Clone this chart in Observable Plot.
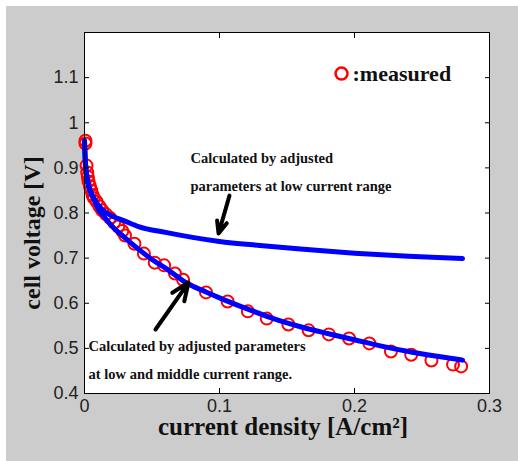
<!DOCTYPE html>
<html><head><meta charset="utf-8">
<script src="https://cdn.jsdelivr.net/npm/d3@7"></script>
<script src="https://cdn.jsdelivr.net/npm/@observablehq/plot@0.6"></script>
<style>
html,body{margin:0;padding:0;background:#fff;}
#chart{position:absolute;left:6px;top:6px;width:512px;height:455px;background:#cccccc;}
#chart svg{display:block;}
</style></head><body><div id="chart"></div>
<script>
// measured data (current density A/cm2, cell voltage V)
const measuredX = [0.0007,0.0007,0.0015,0.002,0.0025,0.003,0.004,0.005,0.006,0.007,0.009,0.011,0.013,0.016,0.019,0.022,0.025,0.028,0.030,0.037,0.044,0.052,0.059,0.067,0.073,0.090,0.106,0.121,0.135,0.151,0.166,0.181,0.196,0.211,0.227,0.242,0.257,0.273,0.279];
const measuredV = [0.960,0.954,0.905,0.890,0.880,0.870,0.860,0.850,0.840,0.833,0.825,0.815,0.806,0.797,0.789,0.779,0.770,0.760,0.750,0.732,0.710,0.690,0.684,0.666,0.652,0.624,0.604,0.582,0.566,0.553,0.540,0.531,0.522,0.511,0.493,0.486,0.473,0.464,0.460];
// model fitted at low current range
const lowFitX = [0,0.0005,0.001,0.002,0.004,0.007,0.01,0.015,0.02,0.03,0.04,0.06,0.08,0.1,0.13,0.16,0.2,0.24,0.28];
const lowFitV = [0.96,0.92,0.90,0.875,0.852,0.833,0.818,0.803,0.794,0.782,0.770,0.757,0.746,0.737,0.728,0.720,0.711,0.704,0.699];
// model fitted at low and middle current range
const midFitX = [0,0.0005,0.001,0.002,0.004,0.007,0.01,0.015,0.02,0.03,0.04,0.05,0.06,0.075,0.09,0.1,0.12,0.14,0.16,0.18,0.2,0.22,0.24,0.26,0.28];
const midFitV = [0.96,0.92,0.90,0.875,0.85,0.83,0.81,0.79,0.772,0.745,0.72,0.697,0.678,0.646,0.625,0.612,0.588,0.566,0.548,0.533,0.519,0.505,0.493,0.483,0.474];
// ticks
const xTicks = [0,0.1,0.2,0.3];
const yTicks = [0.4,0.5,0.6,0.7,0.8,0.9,1,1.1];
// annotations
const noteText = ["Calculated by adjusted","parameters at low current range","Calculated by adjusted parameters","at low and middle current range."];
const noteX = [0.0785,0.0785,0.003,0.003];
const noteY = [0.922,0.860,0.5055,0.4434];
const arrowX1 = [0.1074,0.0526];
const arrowY1 = [0.8386,0.5418];
const arrowX2 = [0.0993,0.0770];
const arrowY2 = [0.7545,0.6459];
const legendLabel = [":measured"];
const legendX = [0.1904];
const legendY = [1.109];

const measured = measuredX.map((x,i)=>({x, v: measuredV[i]}));
const lowFit = lowFitX.map((x,i)=>({x, v: lowFitV[i]}));
const midFit = midFitX.map((x,i)=>({x, v: midFitV[i]}));
const notes = noteText.map((t,i)=>({t, x: noteX[i], y: noteY[i]}));
const arrows = arrowX1.map((x,i)=>({x1:x, y1:arrowY1[i], x2:arrowX2[i], y2:arrowY2[i]}));
const legend = legendLabel.map((t,i)=>({t, x: legendX[i], y: legendY[i]}));

const serif = "'Liberation Serif','Times New Roman',serif";
const sans = "'Liberation Sans',Arial,sans-serif";
const fmt = d => String(d);
const blank = () => "";

const plot = Plot.plot({
  width: 512, height: 455,
  marginLeft: 78, marginTop: 26, marginRight: 29, marginBottom: 68,
  style: {background: "transparent", fontFamily: sans},
  x: {domain: [0, 0.3]},
  y: {domain: [0.4, 1.2]},
  marks: [
    Plot.frame({fill: "white", stroke: null}),
    Plot.dot(measured, {x: "x", y: "v", r: 6, stroke: "#ff0000", strokeWidth: 2, fill: "none"}),
    Plot.line(lowFit, {x: "x", y: "v", stroke: "#0000ff", strokeWidth: 5, curve: "monotone-x"}),
    Plot.line(midFit, {x: "x", y: "v", stroke: "#0000ff", strokeWidth: 5, curve: "monotone-x"}),
    Plot.arrow(arrows, {x1: "x1", y1: "y1", x2: "x2", y2: "y2", stroke: "black", strokeWidth: 4, headLength: 12, headAngle: 45}),
    Plot.text(notes, {x: "x", y: "y", text: "t", textAnchor: "start", fontFamily: serif, fontWeight: "bold", fontSize: 14.5, fill: "#111"}),
    Plot.dot(legend, {x: "x", y: "y", r: 6, stroke: "#ff0000", strokeWidth: 2.5, fill: "none"}),
    Plot.text(legend, {x: "x", y: "y", text: "t", textAnchor: "start", dx: 11, fontFamily: serif, fontWeight: "bold", fontSize: 22, fill: "#111"}),
    // tick labels
    Plot.axisX({ticks: xTicks, tickSize: 0, tickPadding: 6, label: null, fontSize: 18, tickFormat: fmt, fill: "#222"}),
    Plot.axisY({ticks: yTicks, tickSize: 0, tickPadding: 6, label: null, fontSize: 18, tickFormat: fmt, fill: "#222"}),
    // inward tick marks on all four sides
    Plot.axisX({anchor: "bottom", ticks: xTicks, tickSize: 5, dy: -5, label: null, tickFormat: blank}),
    Plot.axisX({anchor: "top", ticks: xTicks, tickSize: 5, dy: 5, label: null, tickFormat: blank}),
    Plot.axisY({anchor: "left", ticks: yTicks, tickSize: 5, dx: 5, label: null, tickFormat: blank}),
    Plot.axisY({anchor: "right", ticks: yTicks, tickSize: 5, dx: -5, label: null, tickFormat: blank}),
    Plot.frame({stroke: "black", strokeWidth: 1}),
    // axis titles
    Plot.text(["current density [A/cm²]"], {frameAnchor: "bottom", textAnchor: "middle", lineAnchor: "middle", dx: -4, dy: 33, fontFamily: serif, fontWeight: "bold", fontSize: 25, fill: "#111"}),
    Plot.text(["cell voltage [V]"], {frameAnchor: "left", textAnchor: "middle", lineAnchor: "middle", rotate: -90, dx: -52, dy: 20, fontFamily: serif, fontWeight: "bold", fontSize: 24, fill: "#111"})
  ]
});
document.getElementById("chart").appendChild(plot);
</script>
</body></html>
